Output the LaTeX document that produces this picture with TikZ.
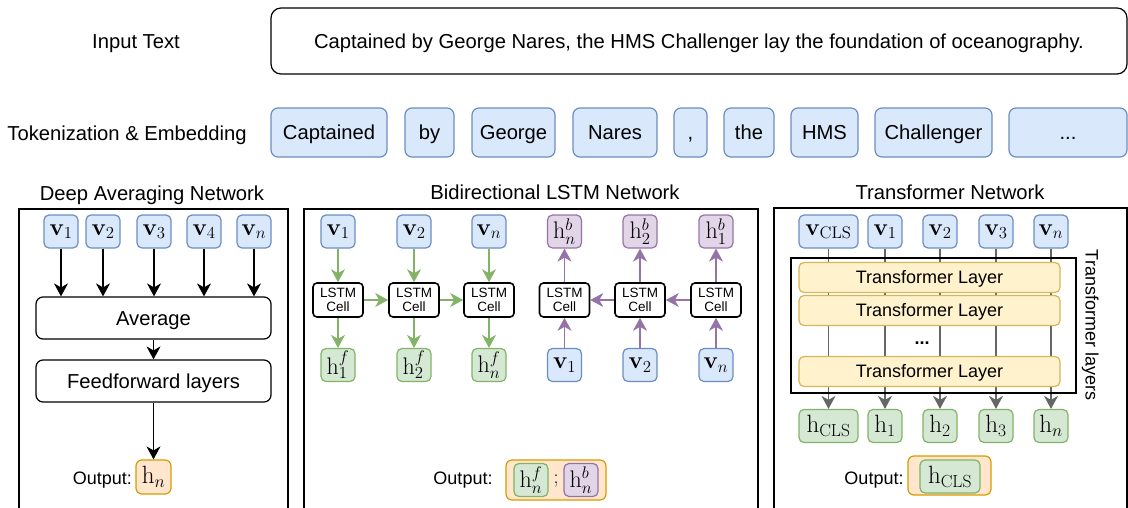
\RequirePackage{fix-cm}
\documentclass[tikz,border=0pt]{standalone}
\usepackage[no-math]{fontspec}
\setmainfont{Liberation Sans}
\usetikzlibrary{arrows.meta}

\definecolor{bluefill}{HTML}{DAE8FC}
\definecolor{bluedraw}{HTML}{6C8EBF}
\definecolor{greenfill}{HTML}{D5E8D4}
\definecolor{greendraw}{HTML}{82B366}
\definecolor{purplefill}{HTML}{E1D5E7}
\definecolor{purpledraw}{HTML}{9673A6}
\definecolor{orangefill}{HTML}{FFE6CC}
\definecolor{orangedraw}{HTML}{D79B00}
\definecolor{yellowfill}{HTML}{FFF2CC}
\definecolor{yellowdraw}{HTML}{D6B656}
\definecolor{arrowgray}{HTML}{666666}

\tikzset{
  % single-line text centred on its capitals (height = cap height of the font)
  capc/.style={text height=#1, text depth=0pt},
  lbl/.style={inner sep=0pt, capc=14.4pt, font=\fontsize{20.2}{24}\selectfont},
  title/.style={inner sep=0pt, capc=14.4pt, font=\fontsize{20.2}{24}\selectfont},
  small/.style={inner sep=0pt, capc=12.9pt, font=\fontsize{18}{22}\selectfont},
  box/.style={rounded corners=#1, inner sep=0pt, line width=1.2pt},
  box/.default=5pt,
  vec/.style={box, fill=bluefill, draw=bluedraw, minimum width=34pt,
    minimum height=33pt, font=\fontsize{24}{28}\selectfont},
  hfw/.style={vec, fill=greenfill, draw=greendraw},
  hbw/.style={vec, fill=purplefill, draw=purpledraw},
  big/.style={font=\fontsize{25}{29}\selectfont},
  outbox/.style={box=6pt, fill=orangefill, draw=orangedraw},
  tok/.style={box=7pt, fill=bluefill, draw=bluedraw, minimum height=49pt,
    capc=14.4pt, font=\fontsize{20.2}{24}\selectfont},
  cell/.style={box=4pt, draw=black, line width=1.6pt, minimum width=50pt,
    minimum height=34pt, align=center, font=\fontsize{13.5}{14.5}\selectfont},
  whitebox/.style={box=#1, draw=black, capc=14.4pt, font=\fontsize{20.2}{24}\selectfont},
  layer/.style={box=5pt, fill=yellowfill, draw=yellowdraw, minimum width=261pt,
    minimum height=30pt, capc=12.9pt, font=\fontsize{18}{22}\selectfont},
  panel/.style={draw=black, line width=1.5pt, inner sep=0pt},
  tip/.style={-{Stealth[length=13pt, width=14pt, inset=4pt]}},
  arr/.style={tip, line width=1.2pt, draw=black},
  garr/.style={tip, line width=1.2pt, draw=greendraw, fill=greendraw},
  parr/.style={tip, line width=1.2pt, draw=purpledraw, fill=purpledraw},
  tarr/.style={tip, line width=1.2pt, draw=arrowgray, fill=arrowgray},
}

\begin{document}
\begin{tikzpicture}[x=1pt, y=-1pt]
\useasboundingbox (0,0) rectangle (1128,507);
\clip (0,0) rectangle (1128,507);

% ---------- input text and tokens ----------
\node[lbl] (inlbl) at (136,41) {Input Text};
\node[whitebox=10pt, minimum width=856pt, minimum height=66pt] (inbox) at (699,41)
  {Captained by George Nares, the HMS Challenger lay the foundation of oceanography.};

\node[lbl] (toklbl) at (127,133) {Tokenization \& Embedding};
\node[tok, minimum width=116pt] (t1) at (329,132.5) {Captained};
\node[tok, minimum width=49pt]  (t2) at (429.5,132.5) {by};
\node[tok, minimum width=83pt]  (t3) at (513.5,132.5) {George};
\node[tok, minimum width=84pt]  (t4) at (615,132.5) {Nares};
\node[tok, minimum width=33pt]  (t5) at (690.5,132.5) {,};
\node[tok, minimum width=50pt]  (t6) at (749,132.5) {the};
\node[tok, minimum width=67pt]  (t7) at (824.5,132.5) {HMS};
\node[tok, minimum width=117pt] (t8) at (933.5,132.5) {Challenger};
\node[tok, minimum width=118pt] (t9) at (1068,132.5) {...};

% ---------- deep averaging network ----------
\node[title] (dantitle) at (152,193.5) {Deep Averaging Network};
\node[panel, minimum width=269pt, minimum height=320pt] (danpanel) at (153.5,369) {};

\node[vec] (dv1) at (61,231.5)  {$\mathbf{v}_1$};
\node[vec] (dv2) at (103,231.5) {$\mathbf{v}_2$};
\node[vec] (dv3) at (154,231.5) {$\mathbf{v}_3$};
\node[vec] (dv4) at (204,231.5) {$\mathbf{v}_4$};
\node[vec] (dvn) at (254,231.5) {$\mathbf{v}_n$};

\node[whitebox=7pt, minimum width=235pt, minimum height=42pt] (avg) at (153.5,318) {Average};
\node[whitebox=7pt, minimum width=235pt, minimum height=42pt] (ff) at (153.5,381) {Feedforward layers};

\node[outbox, big, minimum width=35pt, minimum height=34pt] (danout) at (153.5,477) {$\mathrm{h}_n$};
\node[small, anchor=east] (danoutlbl) at (132,478) {Output:};

\foreach \v in {dv1,dv2,dv3,dv4,dvn}
  \draw[arr] (\v.south) -- (\v.south |- avg.north);
\draw[arr] (avg.south) -- (ff.north);
\draw[arr] (ff.south) -- (danout.north);

% ---------- bidirectional LSTM network ----------
\node[title] (lstmtitle) at (555,192.5) {Bidirectional LSTM Network};
\node[panel, minimum width=454pt, minimum height=320pt] (lstmpanel) at (531,369) {};

% forward direction
\node[vec] (fv1) at (338,231.5) {$\mathbf{v}_1$};
\node[vec] (fv2) at (414,231.5) {$\mathbf{v}_2$};
\node[vec] (fvn) at (489,231.5) {$\mathbf{v}_n$};
\node[cell] (fc1) at (338,300) {LSTM\\Cell};
\node[cell] (fc2) at (414,300) {LSTM\\Cell};
\node[cell] (fc3) at (489,300) {LSTM\\Cell};
\node[hfw] (fh1) at (338,365) {$\mathrm{h}^f_1$};
\node[hfw] (fh2) at (414,365) {$\mathrm{h}^f_2$};
\node[hfw] (fhn) at (489,365) {$\mathrm{h}^f_n$};

% backward direction
\node[hbw] (bhn) at (564.5,231.5) {$\mathrm{h}^b_n$};
\node[hbw] (bh2) at (640,231.5)   {$\mathrm{h}^b_2$};
\node[hbw] (bh1) at (716,231.5)   {$\mathrm{h}^b_1$};
\node[cell] (bc1) at (564.5,300) {LSTM\\Cell};
\node[cell] (bc2) at (640,300)   {LSTM\\Cell};
\node[cell] (bc3) at (716,300)   {LSTM\\Cell};
\node[vec] (bv1) at (564.5,365) {$\mathbf{v}_1$};
\node[vec] (bv2) at (640,365)   {$\mathbf{v}_2$};
\node[vec] (bvn) at (716,365)   {$\mathbf{v}_n$};

\draw[garr] (fv1) -- (fc1);
\draw[garr] (fv2) -- (fc2);
\draw[garr] (fvn) -- (fc3);
\draw[garr] (fc1) -- (fh1);
\draw[garr] (fc2) -- (fh2);
\draw[garr] (fc3) -- (fhn);
\draw[garr] (fc1) -- (fc2);
\draw[garr] (fc2) -- (fc3);

\draw[parr] (bv1) -- (bc1);
\draw[parr] (bv2) -- (bc2);
\draw[parr] (bvn) -- (bc3);
\draw[parr] (bc1) -- (bhn);
\draw[parr] (bc2) -- (bh2);
\draw[parr] (bc3) -- (bh1);
\draw[parr] (bc3) -- (bc2);
\draw[parr] (bc2) -- (bc1);

\node[small] (lstmoutlbl) at (463,478) {Output:};
\node[outbox, minimum width=100pt, minimum height=40pt] (lstmout) at (556,480) {};
\node[hfw] (lstmoutf) at (531,480) {$\mathrm{h}^f_n$};
\node[inner sep=0pt, font=\fontsize{20}{24}\selectfont] (semi) at (556,481) {$;$};
\node[hbw] (lstmoutb) at (581,480) {$\mathrm{h}^b_n$};

% ---------- transformer network ----------
\node[title] (trftitle) at (950,192.5) {Transformer Network};
\node[panel, minimum width=353pt, minimum height=320pt] (trfpanel) at (950.5,368) {};

\node[vec, minimum width=59pt] (tvc) at (828.5,231.5) {$\mathbf{v}_{\mathrm{CLS}}$};
\node[vec] (tv1) at (885,231.5)  {$\mathbf{v}_1$};
\node[vec] (tv2) at (940,231.5)  {$\mathbf{v}_2$};
\node[vec] (tv3) at (996,231.5)  {$\mathbf{v}_3$};
\node[vec] (tvn) at (1051,231.5) {$\mathbf{v}_n$};

\node[hfw, big, minimum width=59pt] (thc) at (828.5,426) {$\mathrm{h}_{\mathrm{CLS}}$};
\node[hfw, big] (th1) at (885,426)  {$\mathrm{h}_1$};
\node[hfw, big] (th2) at (940,426)  {$\mathrm{h}_2$};
\node[hfw, big] (th3) at (996,426)  {$\mathrm{h}_3$};
\node[hfw, big] (thn) at (1051,426) {$\mathrm{h}_n$};

\draw[tarr] (tvc) -- (thc);
\draw[tarr] (tv1) -- (th1);
\draw[tarr] (tv2) -- (th2);
\draw[tarr] (tv3) -- (th3);
\draw[tarr] (tvn) -- (thn);

\node[draw=black, line width=1.5pt, inner sep=0pt, minimum width=285pt,
  minimum height=135pt] (stack) at (933.5,325.5) {};
\node[layer] (layer1) at (929.5,277.5) {Transformer Layer};
\node[layer] (layer2) at (929.5,310.5) {Transformer Layer};
\node[layer] (layer3) at (929.5,371.5) {Transformer Layer};
\node[inner sep=0pt, font=\fontsize{18}{22}\selectfont\bfseries] (dots) at (922,343) {...};
\node[small, rotate=-90] (stacklbl) at (1092,325) {Transformer layers};

\node[small] (trfoutlbl) at (874,478) {Output:};
\node[outbox, minimum width=83pt, minimum height=39pt] (trfout) at (949.5,475.5) {};
\node[hfw, big, minimum width=60pt] (trfouth) at (950,476.5) {$\mathrm{h}_{\mathrm{CLS}}$};
\end{tikzpicture}
\end{document}
